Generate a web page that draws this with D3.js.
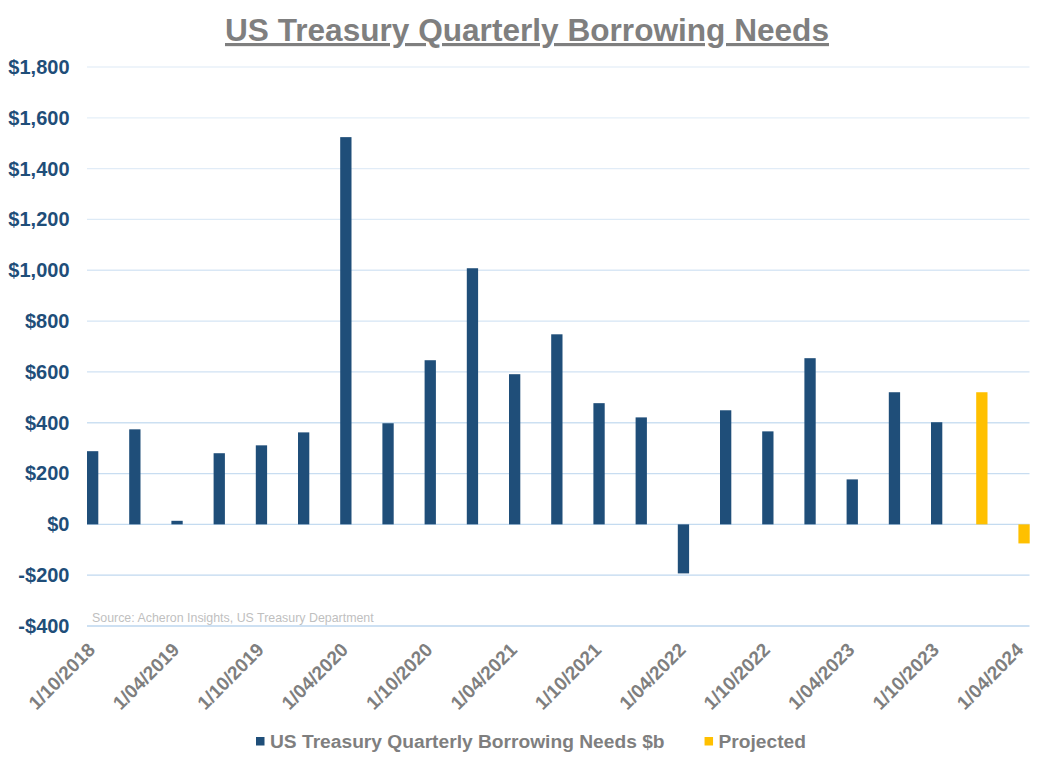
<!DOCTYPE html>
<html>
<head>
<meta charset="utf-8">
<script src="https://cdn.jsdelivr.net/npm/d3@7"></script>
<style>
  body { margin: 0; background: #fff; }
  svg { display: block; font-family: "Liberation Sans", Arial, sans-serif; }
</style>
</head>
<body>
<svg id="chart" width="1057" height="769"></svg>
<script>
// ---- Data ----
const categories = [
  "1/10/2018","1/01/2019","1/04/2019","1/07/2019","1/10/2019","1/01/2020",
  "1/04/2020","1/07/2020","1/10/2020","1/01/2021","1/04/2021","1/07/2021",
  "1/10/2021","1/01/2022","1/04/2022","1/07/2022","1/10/2022","1/01/2023",
  "1/04/2023","1/07/2023","1/10/2023","1/01/2024","1/04/2024"
];
const borrowingNeeds = [288, 374, 14, 280, 311, 362, 1524, 398, 646, 1008, 591, 748,
  477, 421, -193, 449, 366, 654, 177, 520, 402, null, null];
const projected = [null, null, null, null, null, null, null, null, null, null, null, null,
  null, null, null, null, null, null, null, null, null, 520, -75];
const yTicks = [-400, -200, 0, 200, 400, 600, 800, 1000, 1200, 1400, 1600, 1800];
const tickLabels = categories.filter((d, i) => i % 2 === 0);
const seriesNames = ["US Treasury Quarterly Borrowing Needs $b", "Projected"];
const colors = ["#1f4e79", "#ffc000"];

// ---- Layout ----
const svg = d3.select("#chart");
const plot = { left: 87, right: 1029.5, top: 67, bottom: 626 };
const step = 42.2;

const x = d3.scaleBand()
  .domain(categories)
  .range([plot.left, plot.left + step * categories.length])
  .paddingInner(0).paddingOuter(0);
const barW = 11.3;
const projOffset = 3;

const y = d3.scaleLinear().domain([-400, 1800]).range([plot.bottom, plot.top]);

// Title
svg.append("text")
  .attr("x", 527).attr("y", 41)
  .attr("text-anchor", "middle")
  .attr("font-size", 31.6).attr("font-weight", "bold")
  .attr("fill", "#7f7f7f")
  .attr("text-decoration", "underline")
  .text("US Treasury Quarterly Borrowing Needs");

// Gridlines
const gridColor = d3.scaleLinear().domain([-400, 1800]).range(["#bcd6ee", "#e9f1f9"]);
svg.append("g").selectAll("line").data(yTicks).join("line")
  .attr("x1", plot.left).attr("x2", plot.right)
  .attr("y1", d => y(d)).attr("y2", d => y(d))
  .attr("stroke", d => gridColor(d)).attr("stroke-width", 1.3);

// Y axis labels
const yAxis = d3.axisLeft(y).tickValues(yTicks).tickSize(0).tickPadding(0)
  .tickFormat(d => (d < 0 ? "-$" : "$") + d3.format(",")(Math.abs(d)));
const yg = svg.append("g").attr("transform", "translate(69.5,0)").call(yAxis);
yg.select(".domain").remove();
yg.selectAll("text")
  .attr("font-size", 20).attr("font-weight", "bold")
  .attr("fill", "#1f4e79").attr("font-family", "Liberation Sans, Arial, sans-serif");

// Source
svg.append("text")
  .attr("x", 92).attr("y", 622)
  .attr("font-size", 12.4).attr("fill", "#bfbfbf")
  .text("Source: Acheron Insights, US Treasury Department");

// Bars
svg.append("clipPath").attr("id", "clip").append("rect")
  .attr("x", plot.left).attr("y", 0).attr("width", plot.right - plot.left + 1).attr("height", 769);
const bars = svg.append("g").attr("clip-path", "url(#clip)");
bars.selectAll("rect.main")
  .data(categories.map((c, i) => ({ c, v: borrowingNeeds[i] })).filter(d => d.v != null))
  .join("rect").attr("class", "main")
  .attr("x", d => x(d.c))
  .attr("width", barW)
  .attr("y", d => y(Math.max(0, d.v)))
  .attr("height", d => Math.abs(y(d.v) - y(0)))
  .attr("fill", colors[0]);
bars.selectAll("rect.proj")
  .data(categories.map((c, i) => ({ c, v: projected[i] })).filter(d => d.v != null))
  .join("rect").attr("class", "proj")
  .attr("x", d => x(d.c) + projOffset)
  .attr("width", barW)
  .attr("y", d => y(Math.max(0, d.v)))
  .attr("height", d => Math.abs(y(d.v) - y(0)))
  .attr("fill", colors[1]);

// X tick labels
svg.append("g").selectAll("text").data(tickLabels).join("text")
  .attr("transform", d => `translate(${x(d) + barW / 2 + 3.5},651) rotate(-45)`)
  .attr("text-anchor", "end")
  .attr("font-size", 19).attr("font-weight", "bold")
  .attr("fill", "#7f7f7f")
  .text(d => d);

// Legend
const legend = svg.append("g");
const items = legend.selectAll("g").data(seriesNames).join("g");
items.append("rect").attr("width", 8.5).attr("height", 8.5).attr("y", -11)
  .attr("fill", (d, i) => colors[i]);
items.append("text").attr("x", 14).attr("y", 0)
  .attr("font-size", 19.2).attr("font-weight", "bold").attr("fill", "#7f7f7f")
  .text(d => d);
const widths = [];
items.each(function () { widths.push(this.getBBox().width); });
const gap = 40;
const total = widths.reduce((a, b) => a + b, 0) + gap;
let xpos = 531 - total / 2;
items.attr("transform", (d, i) => {
  const t = `translate(${xpos},748)`;
  xpos += widths[i] + gap;
  return t;
});
</script>
</body>
</html>
